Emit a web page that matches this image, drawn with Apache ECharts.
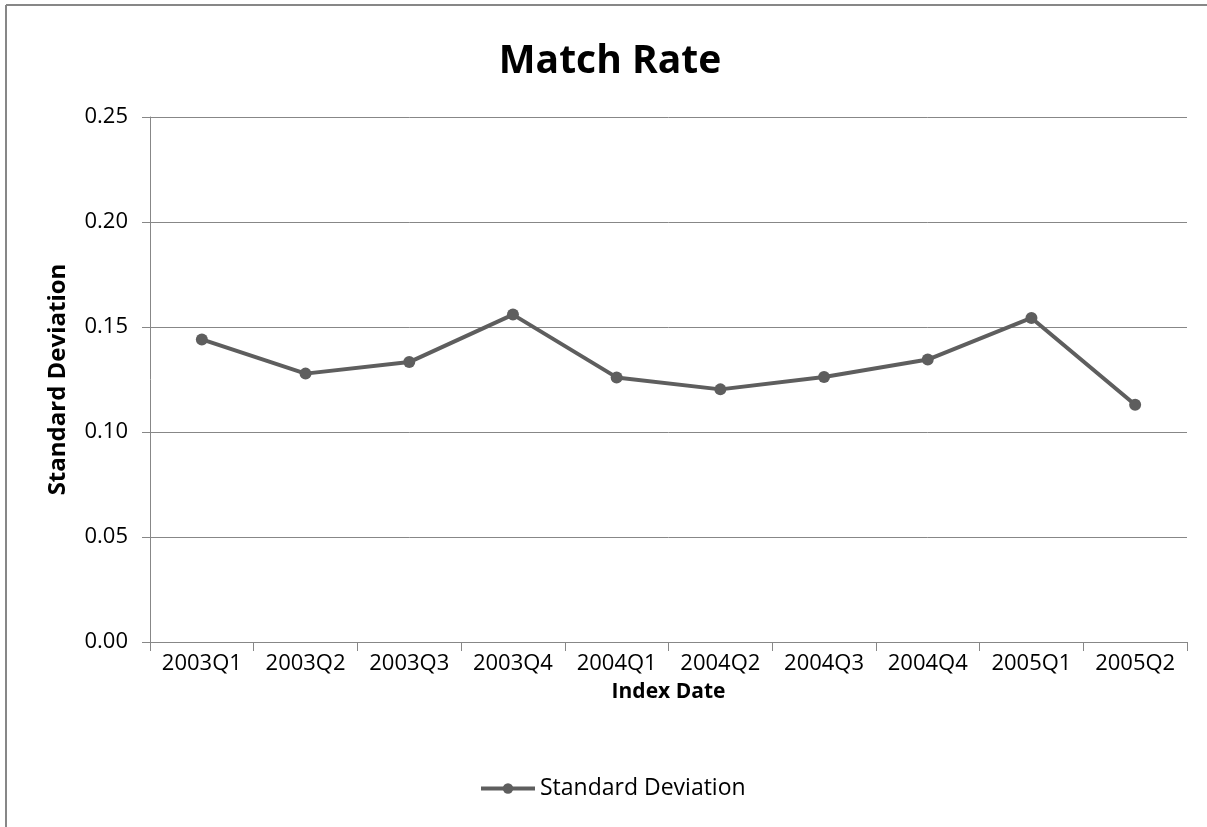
<!DOCTYPE html>
<html>
<head>
<meta charset="utf-8">
<script src="https://cdn.jsdelivr.net/npm/echarts@6/dist/echarts.min.js"></script>
<style>
  html, body { margin: 0; padding: 0; background: #fff; overflow: hidden; }
  #chart { width: 1207px; height: 827px; }
</style>
</head>
<body>
<div id="chart"></div>
<script>
// Quarterly index dates
const quarters = ['2003Q1', '2003Q2', '2003Q3', '2003Q4', '2004Q1', '2004Q2', '2004Q3', '2004Q4', '2005Q1', '2005Q2'];
// Standard deviation of the match rate per quarter
const stdDev = [0.1441, 0.1278, 0.1333, 0.1559, 0.1260, 0.1203, 0.1262, 0.1345, 0.1543, 0.1130];
// Value-axis settings
const yMin = 0;
const yMax = 0.25;
const yStep = 0.05;

const font = '"Open Sans", "DejaVu Sans", sans-serif';
const gray = '#878787';
const lineColor = '#5e5e5e';

const chart = echarts.init(document.getElementById('chart'), null, { renderer: 'canvas' });

chart.setOption({
  animation: false,
  backgroundColor: '#ffffff',
  textStyle: { fontFamily: font, color: '#000' },
  // chart frame: only the top and left edges fall inside the page
  graphic: [
    { type: 'line', shape: { x1: 6, y1: 5, x2: 1207, y2: 5 }, style: { stroke: gray, lineWidth: 2 }, silent: true },
    { type: 'line', shape: { x1: 6, y1: 5, x2: 6, y2: 827 }, style: { stroke: gray, lineWidth: 2 }, silent: true }
  ],
  title: {
    text: 'Match Rate',
    left: 605,
    textAlign: 'center',
    top: 37,
    textStyle: { fontFamily: font, fontSize: 39, fontWeight: 'bold', color: '#000' }
  },
  legend: {
    bottom: 22,
    left: 474,
    itemWidth: 54,
    itemHeight: 13,
    itemGap: 0,
    lineStyle: { width: 4 },
    textStyle: { fontFamily: font, fontSize: 23, color: '#000' },
    data: ['Standard Deviation']
  },
  grid: { left: 150, right: 20, top: 117, bottom: 185, containLabel: false },
  xAxis: {
    type: 'category',
    data: quarters,
    boundaryGap: true,
    name: 'Index Date',
    nameLocation: 'middle',
    nameGap: 40,
    nameTextStyle: { fontFamily: font, fontSize: 21, fontWeight: 'bold', color: '#000' },
    axisLine: { lineStyle: { color: gray, width: 1 } },
    axisTick: { show: true, interval: 0, length: 9, lineStyle: { color: gray } },
    axisLabel: { interval: 0, fontFamily: font, fontSize: 22, color: '#000', margin: 11 },
    splitLine: { show: false }
  },
  yAxis: {
    type: 'value',
    min: yMin,
    max: yMax,
    interval: yStep,
    name: 'Standard Deviation',
    nameLocation: 'middle',
    nameGap: 80,
    nameRotate: 90,
    nameTextStyle: { fontFamily: font, fontSize: 24, fontWeight: 'bold', color: '#000' },
    axisLine: { show: true, lineStyle: { color: gray, width: 1 } },
    axisTick: { show: true, length: 8, lineStyle: { color: gray } },
    axisLabel: { fontFamily: font, fontSize: 22, color: '#000', margin: 22, formatter: v => v.toFixed(2) },
    splitLine: { show: true, lineStyle: { color: gray, width: 1 } }
  },
  series: [{
    name: 'Standard Deviation',
    type: 'line',
    data: stdDev,
    symbol: 'circle',
    symbolSize: 12,
    showAllSymbol: true,
    lineStyle: { color: lineColor, width: 4 },
    itemStyle: { color: lineColor }
  }]
});
</script>
</body>
</html>
